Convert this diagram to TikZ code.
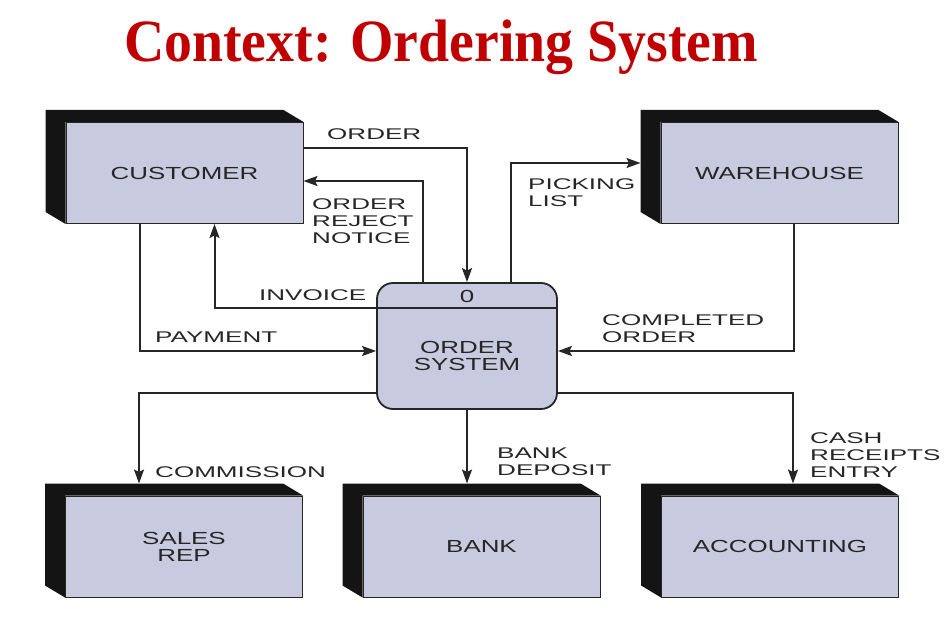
\documentclass[tikz,border=0pt]{standalone}
\usepackage{fontspec}
\usepackage{tikz}
\usetikzlibrary{arrows.meta, calc}
\newfontfamily\titlefont[FakeStretch=0.93]{Liberation Serif}
\newfontfamily\dfdfont[FakeStretch=1.48]{Liberation Sans}
\newfontfamily\flowfont[FakeStretch=1.68]{Liberation Sans}
\definecolor{entityfill}{HTML}{C8CBE0}
\definecolor{titlered}{HTML}{C00000}
\definecolor{inkgray}{HTML}{262626}

\begin{document}
\begin{tikzpicture}[
  x=1pt, y=-1pt,
  entity/.style={draw=inkgray, line width=1pt, fill=entityfill,
                 minimum width=237pt, minimum height=101pt, inner sep=0pt,
                 align=center, text=inkgray, font=\dfdfont\fontsize{17.5}{17}\selectfont},
  process/.style={draw=inkgray, line width=1.8pt, fill=entityfill, rounded corners=16pt,
                  minimum width=180pt, minimum height=126pt, inner sep=0pt},
  proctext/.style={align=center, text=inkgray, inner sep=0pt,
                   font=\dfdfont\fontsize{17.5}{17}\selectfont},
  side/.style={fill=black!92},
  flow/.style={-{Stealth[length=14pt, width=10pt, inset=2.5pt]}, line width=2pt, draw=inkgray},
  lbl/.style={anchor=north west, align=left, inner sep=0pt, text=inkgray,
              font=\flowfont\fontsize{15.5}{17}\selectfont}
]
\useasboundingbox (0,0) rectangle (946,631);

% Title
\node[anchor=base, text=titlered, font=\titlefont\bfseries\fontsize{60}{60}\selectfont]
  (title) at (441,62) {Context: Ordering System};

% External entities
\node[entity] (cust) at (184.5,173) {CUSTOMER};
\node[entity] (ware) at (779.5,173) {WAREHOUSE};
\node[entity] (srep) at (184,546.5) {SALES\\REP};
\node[entity] (bank) at (481.5,546.5) {BANK};
\node[entity] (acct) at (780,546.5) {ACCOUNTING};

% 3D sides of the entities
\foreach \n in {cust,ware,srep,bank,acct}
  \fill[side] (\n.south west) -- ++(-20,-12) -- ([shift={(-20,-12)}]\n.north west)
    -- ([shift={(-20,-12)}]\n.north east) -- (\n.north east) -- (\n.north west) -- cycle;

% Process
\node[process] (osys) at (467,346) {};
\draw[line width=1.5pt, draw=inkgray] ([yshift=38pt]osys.west) -- ([yshift=38pt]osys.east);
\node[proctext] (onum) at (467,296) {0};
\node[proctext] (oname) at (467,356) {ORDER\\SYSTEM};

% Flows - Customer
\draw[flow] ([yshift=25pt]cust.east) -| (osys.north);
\draw[flow] ([xshift=-44pt]osys.north) |- ([yshift=-8pt]cust.east);
\draw[flow] ([yshift=38pt]osys.west) -| ([xshift=30pt]cust.south);
\draw[flow] ([xshift=-45pt]cust.south) |- ([yshift=-5pt]osys.west);

% Flows - Warehouse
\draw[flow] ([xshift=44pt]osys.north) |- ([xshift=-20pt, yshift=10pt]ware.west);
\draw[flow] ([xshift=14pt]ware.south) |- ([yshift=-5pt]osys.east);

% Flows - Outputs
\draw[flow] ([yshift=-47pt]osys.west) -| ([xshift=-45pt, yshift=12pt]srep.north);
\coordinate (bankin) at ([yshift=12pt]bank.north);
\draw[flow] (osys.south) -- (osys.south |- bankin);
\draw[flow] ([yshift=-47pt]osys.east) -| ([xshift=13pt, yshift=12pt]acct.north);

% Labels
\node[lbl] (lorder) at (327,128) {ORDER};
\node[lbl] (lreject) at (312,198) {ORDER\\REJECT\\NOTICE};
\node[lbl] (lpick) at (528,178) {PICKING\\LIST};
\node[lbl] (linv) at (259,289) {INVOICE};
\node[lbl] (lpay) at (155,332) {PAYMENT};
\node[lbl] (lcomp) at (602,314) {COMPLETED\\ORDER};
\node[lbl] (lcomm) at (155,466) {COMMISSION};
\node[lbl] (ldep) at (497,448) {BANK\\DEPOSIT};
\node[lbl] (lcash) at (810,432) {CASH\\RECEIPTS\\ENTRY};

\end{tikzpicture}
\end{document}
